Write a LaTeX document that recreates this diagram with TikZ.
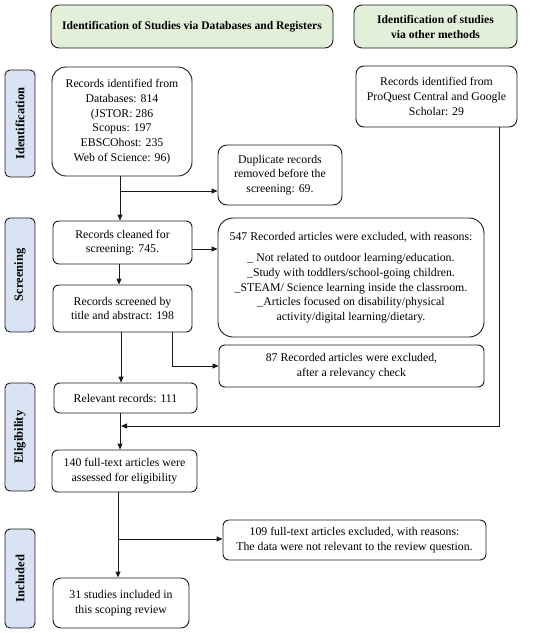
\documentclass[tikz,border=0pt]{standalone}
\usepackage{fontspec}
\setmainfont{Liberation Serif}
\usetikzlibrary{arrows.meta}
\definecolor{hdrgreen}{HTML}{E2EFD9}
\definecolor{sideblue}{HTML}{DAE3F3}
\definecolor{edge}{HTML}{1A1A1A}
\begin{document}
\begin{tikzpicture}[x=1pt,y=-1pt,
  box/.style={draw=edge, line width=0.9pt, rounded corners=6pt, fill=white, align=center,
    font=\fontsize{11.8}{14.7}\selectfont, inner sep=2pt},
  head/.style={box, fill=hdrgreen, rounded corners=8pt, font=\bfseries\fontsize{11.6}{15}\selectfont},
  side/.style={draw=edge, line width=0.9pt, rounded corners=5pt, fill=sideblue, rotate=90,
    minimum height=30pt, inner sep=1pt, font=\bfseries\fontsize{12.5}{14}\selectfont},
  arr/.style={-{Triangle[length=6pt,width=5pt]}, line width=0.9pt, draw=edge},
  ln/.style={line width=0.9pt, draw=edge}]
\useasboundingbox (0,0) rectangle (550,633);
% headers
\node[head, minimum width=282pt, minimum height=43pt] (h1) at (192,26.5) {Identification of Studies via Databases and Registers};
\node[head, minimum width=163pt, minimum height=43pt] (h2) at (435.5,26.5) {Identification of studies\\via other methods};
% side labels
\node[side, minimum width=107pt] (sid) at (20,123.5) {Identification};
\node[side, minimum width=114pt] (sscr) at (20,275) {Screening};
\node[side, minimum width=108pt] (selig) at (20,437) {Eligibility};
\node[side, minimum width=99pt] (sincl) at (20,578.5) {Included};
% boxes
\node[box, minimum width=140pt, minimum height=109pt, rounded corners=14pt] (rec) at (122,121.5)
  {Records identified from\\Databases: 814\\(JSTOR: 286\\Scopus: 197\\EBSCOhost: 235\\Web of Science: 96)};
\node[box, minimum width=161pt, minimum height=61pt, rounded corners=8pt] (pq) at (436.5,96.5)
  {Records identified from\\ProQuest Central and Google\\Scholar: 29};
\node[box, minimum width=124pt, minimum height=60pt, rounded corners=9pt] (dup) at (280,175)
  {Duplicate records\\removed before the\\screening: 69.};
\node[box, minimum width=139pt, minimum height=43pt] (clean) at (122.5,242.5)
  {Records cleaned for\\screening: 745.};
\node[box, minimum width=266pt, minimum height=119pt, rounded corners=15pt] (ex547) at (351,277.5)
  {547 Recorded articles were excluded, with reasons:\\[7pt]
   \_ Not related to outdoor learning/education.\\
   \_Study with toddlers/school-going children.\\
   \_STEAM/ Science learning inside the classroom.\\
   \_Articles focused on disability/physical\\
   activity/digital learning/dietary.};
\node[box, minimum width=139pt, minimum height=47pt] (scr) at (122.5,308.5)
  {Records screened by\\title and abstract: 198};
\node[box, minimum width=265pt, minimum height=42pt] (ex87) at (351.5,366)
  {87 Recorded articles were excluded,\\after a relevancy check};
\node[box, minimum width=143pt, minimum height=30pt] (rel) at (125.5,398)
  {Relevant records: 111};
\node[box, minimum width=145pt, minimum height=42pt] (ft) at (124.5,471)
  {140 full-text articles were\\assessed for eligibility};
\node[box, minimum width=263pt, minimum height=40pt] (ex109) at (354.5,540)
  {109 full-text articles excluded, with reasons:\\The data were not relevant to the review question.};
\node[box, minimum width=136pt, minimum height=50pt, rounded corners=8pt] (inc) at (121,603)
  {31 studies included in\\this scoping review};
% connector points
\coordinate (b1) at (120,191);
\coordinate (m1) at (121,426);
\coordinate (b3) at (118,539);
% connectors
\draw[arr] (rec.south -| b1) -- (clean.north -| b1);
\draw[arr] (b1) -- (b1 -| dup.west);
\draw[arr] ([yshift=-6.5pt]clean.east) -- ([yshift=-6.5pt]clean.east -| ex547.west);
\draw[arr] (clean.south -| 119,0) -- (scr.north -| 119,0);
\draw[arr] (scr.south -| 121,0) -- (rel.north -| 121,0);
\draw[arr] (scr.south -| 172,0) |- (ex87.west);
\draw[arr] (rel.south -| 120,0) -- (ft.north -| 120,0);
\draw[arr] (pq.south -| 499,0) |- (m1);
\draw[arr] (ft.south -| b3) -- (inc.north -| b3);
\draw[arr] (b3) -- (b3 -| ex109.west);
\end{tikzpicture}
\end{document}
